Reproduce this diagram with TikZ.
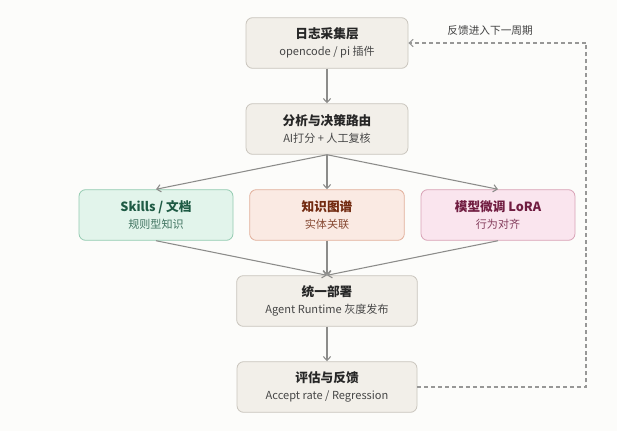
\documentclass[tikz,border=0pt]{standalone}
\usepackage{fontspec}
\setmainfont{Noto Sans CJK SC}
\usetikzlibrary{positioning,arrows.meta}

\definecolor{pagebg}{HTML}{FCFCFA}
\definecolor{stagefill}{HTML}{F2EFE9}
\definecolor{stageline}{HTML}{C9C5BD}
\definecolor{skillfill}{HTML}{E2F4EB}
\definecolor{skillline}{HTML}{94CBB1}
\definecolor{skilltext}{HTML}{1E5A44}
\definecolor{graphfill}{HTML}{FAEAE3}
\definecolor{graphline}{HTML}{E2B09C}
\definecolor{graphtext}{HTML}{722A10}
\definecolor{lorafill}{HTML}{FAE5EE}
\definecolor{loraline}{HTML}{D8A2B6}
\definecolor{loratext}{HTML}{701C40}
\definecolor{flowgray}{HTML}{8C8C8A}

\tikzstyle{stage} = [draw=stageline,fill=stagefill,line width=0.6pt,rounded corners=5pt,
  minimum width=121.5pt,minimum height=38pt,align=center,text=black!85]
\tikzstyle{edge} = [draw,flowgray,line width=0.8pt,-{Straight Barb[length=3pt,width=5.5pt]}]
\tikzstyle{loop} = [draw,flowgray!90,line width=0.8pt,dash pattern=on 3pt off 2.2pt,
  -{Straight Barb[length=3pt,width=5.5pt]}]

\newcommand{\boxlabel}[2]{{\fontsize{9.5}{12}\selectfont\bfseries #1}\\[0.3pt]{\fontsize{8.3}{10}\selectfont\color{.!85} #2}}

\begin{document}
\begin{tikzpicture}[node distance=64.5pt,on grid]
   \fill[pagebg] (0,0) rectangle (462.75pt,-323.25pt);
   \useasboundingbox (0,0) rectangle (462.75pt,-323.25pt);

   \node[stage] (logs) at (245.25pt,-32.25pt) {\boxlabel{日志采集层}{opencode / pi 插件}};
   \node[stage] (route) [below=of logs] {\boxlabel{分析与决策路由}{AI打分 + 人工复核}};
   \node[stage,fill=graphfill,draw=graphline,text=graphtext,minimum width=116pt]
      (graph) [below=of route] {\boxlabel{知识图谱}{实体关联}};
   \node[stage,fill=skillfill,draw=skillline,text=skilltext,minimum width=115.5pt]
      (skills) [left=128.25pt of graph] {\boxlabel{Skills / 文档}{规则型知识}};
   \node[stage,fill=lorafill,draw=loraline,text=loratext,minimum width=115.5pt]
      (lora) [right=128.25pt of graph] {\boxlabel{模型微调 LoRA}{行为对齐}};
   \node[stage,minimum width=135.5pt] (deploy) [below=of graph] {\boxlabel{统一部署}{Agent Runtime 灰度发布}};
   \node[stage,minimum width=135pt] (eval) [below=of deploy] {\boxlabel{评估与反馈}{Accept rate / Regression}};
   \coordinate (turn) at (439.5pt,-32.25pt);

   \path[edge] (logs) -- (route);
   \path[edge] (route.south) -- (skills.north);
   \path[edge] (route.south) -- (graph.north);
   \path[edge] (route.south) -- (lora.north);
   \path[edge] (skills.south) -- (deploy.north);
   \path[edge] (graph.south) -- (deploy.north);
   \path[edge] (lora.south) -- (deploy.north);
   \path[edge] (deploy) -- (eval);
   \path[loop] (eval.east) -| (turn) -- node[pos=0.54,above,yshift=2pt,text=black!75,font=\fontsize{8}{10}\selectfont] {反馈进入下一周期} (logs.east);
\end{tikzpicture}
\end{document}
